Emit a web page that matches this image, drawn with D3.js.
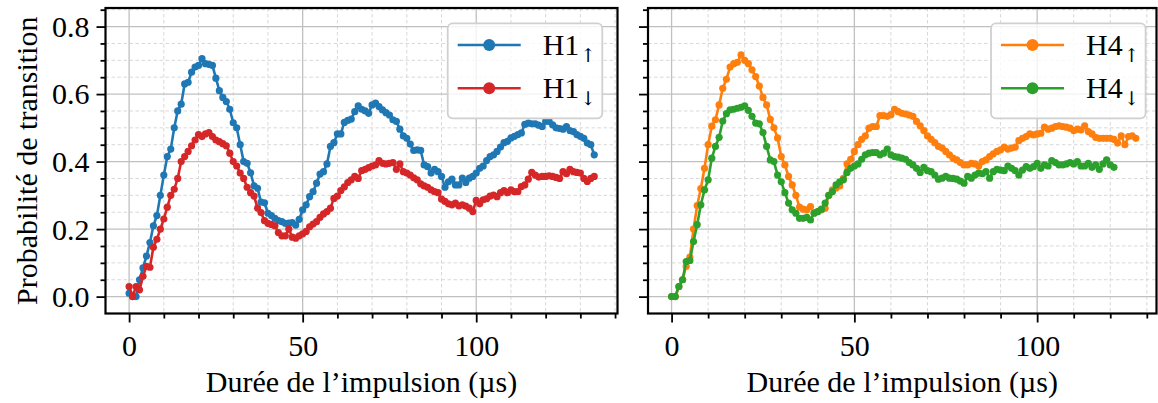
<!DOCTYPE html>
<html><head><meta charset="utf-8">
<script src="https://cdn.jsdelivr.net/npm/d3@7"></script>
<style>body{margin:0;background:#fff}svg{display:block}</style>
</head><body>
<svg id="c" width="1158" height="403"></svg>
<script>
// ---------- data (one sample per µs) ----------
const h1Up = [0.01,0.0,0.0,0.05,0.085,0.12,0.16,0.21,0.24,0.30,
 0.36,0.415,0.437,0.50,0.55,0.57,0.63,0.635,0.665,0.68,
 0.685,0.705,0.69,0.688,0.685,0.647,0.61,0.59,0.578,0.555,
 0.515,0.50,0.45,0.40,0.395,0.367,0.328,0.321,0.28,0.278,
 0.247,0.24,0.232,0.225,0.222,0.217,0.218,0.219,0.212,0.229,
 0.257,0.272,0.296,0.311,0.336,0.363,0.37,0.393,0.445,0.456,
 0.482,0.482,0.516,0.522,0.526,0.548,0.565,0.555,0.55,0.543,
 0.568,0.573,0.563,0.553,0.545,0.538,0.524,0.519,0.496,0.476,
 0.469,0.452,0.433,0.435,0.433,0.39,0.385,0.366,0.377,0.37,
 0.356,0.324,0.34,0.348,0.331,0.331,0.351,0.338,0.351,0.356,
 0.366,0.38,0.387,0.403,0.415,0.42,0.43,0.443,0.456,0.46,
 0.47,0.475,0.48,0.485,0.51,0.514,0.512,0.512,0.508,0.504,
 0.519,0.519,0.509,0.5,0.498,0.496,0.504,0.492,0.489,0.48,
 0.475,0.469,0.455,0.45,0.42];
const h1Down = [0.03,0.0,0.03,0.02,0.06,0.09,0.087,0.146,0.17,0.2,
 0.23,0.265,0.30,0.318,0.35,0.40,0.415,0.43,0.447,0.464,
 0.48,0.474,0.482,0.486,0.474,0.464,0.459,0.453,0.447,0.425,
 0.40,0.387,0.366,0.35,0.324,0.308,0.298,0.262,0.249,0.225,
 0.217,0.214,0.21,0.19,0.18,0.18,0.2,0.176,0.173,0.18,
 0.186,0.193,0.207,0.215,0.222,0.235,0.245,0.252,0.262,0.291,
 0.298,0.314,0.325,0.338,0.346,0.356,0.35,0.373,0.377,0.382,
 0.387,0.39,0.403,0.395,0.393,0.395,0.397,0.377,0.393,0.37,
 0.366,0.36,0.352,0.346,0.334,0.328,0.324,0.316,0.311,0.308,
 0.289,0.282,0.275,0.272,0.277,0.269,0.272,0.268,0.262,0.252,
 0.285,0.275,0.287,0.29,0.298,0.301,0.296,0.308,0.314,0.308,
 0.316,0.311,0.311,0.326,0.331,0.348,0.368,0.36,0.354,0.356,
 0.356,0.358,0.356,0.353,0.35,0.37,0.364,0.377,0.37,0.368,
 0.366,0.35,0.341,0.35,0.356];
const h4Up = [0.0,0.0,0.03,0.05,0.09,0.117,0.2,0.27,0.32,0.38,
 0.45,0.505,0.524,0.568,0.617,0.644,0.68,0.69,0.694,0.716,
 0.70,0.69,0.672,0.652,0.624,0.59,0.568,0.525,0.50,0.47,
 0.415,0.39,0.356,0.331,0.30,0.265,0.259,0.257,0.267,0.249,
 0.252,0.257,0.262,0.30,0.316,0.322,0.328,0.35,0.393,0.407,
 0.43,0.45,0.466,0.476,0.499,0.504,0.504,0.536,0.536,0.534,
 0.539,0.555,0.548,0.543,0.541,0.538,0.534,0.519,0.506,0.492,
 0.476,0.466,0.456,0.445,0.44,0.43,0.42,0.41,0.405,0.397,
 0.39,0.39,0.395,0.393,0.387,0.40,0.405,0.415,0.423,0.43,
 0.435,0.443,0.437,0.44,0.443,0.462,0.469,0.474,0.482,0.479,
 0.482,0.484,0.502,0.496,0.499,0.504,0.506,0.504,0.502,0.499,
 0.492,0.496,0.494,0.506,0.489,0.482,0.472,0.469,0.469,0.469,
 0.469,0.466,0.455,0.476,0.45,0.474,0.476,0.469];
const h4Down = [0,0,0.03,0.05,0.104,0.107,0.163,0.213,0.272,0.316,
 0.346,0.41,0.445,0.472,0.52,0.542,0.553,0.555,0.558,0.561,
 0.565,0.552,0.534,0.514,0.512,0.486,0.445,0.405,0.40,0.36,
 0.34,0.308,0.277,0.257,0.247,0.232,0.232,0.235,0.227,0.247,
 0.252,0.259,0.277,0.30,0.311,0.331,0.34,0.346,0.368,0.38,
 0.387,0.393,0.407,0.42,0.425,0.427,0.427,0.42,0.425,0.437,
 0.42,0.415,0.413,0.41,0.407,0.397,0.39,0.38,0.368,0.383,
 0.373,0.37,0.36,0.348,0.351,0.356,0.351,0.35,0.348,0.342,
 0.336,0.356,0.351,0.36,0.366,0.364,0.37,0.351,0.37,0.377,
 0.375,0.373,0.387,0.38,0.373,0.36,0.375,0.385,0.38,0.385,
 0.395,0.38,0.39,0.387,0.403,0.397,0.39,0.39,0.393,0.397,
 0.393,0.40,0.387,0.387,0.395,0.383,0.39,0.377,0.393,0.405,
 0.39,0.383];
const seriesNames = ["H1", "H1", "H4", "H4"];
const seriesSubs = ["↑", "↓", "↑", "↓"];
const xMajorTicks = [0, 50, 100];
const xTickLabels = ["0", "50", "100"];
const yMajorTicks = [0, 0.2, 0.4, 0.6, 0.8];
const yTickLabels = ["0.0", "0.2", "0.4", "0.6", "0.8"];
const xLabel = "Durée de l’impulsion (µs)";
const yLabel = "Probabilité de transition";

// ---------- layout / style ----------
const FONT = "'Liberation Serif','Times New Roman',serif";
const FS = 30;
const TOP = 8, BOTTOM = 313.5;
const colors = ["#1f77b4", "#d62728", "#ff7f0e", "#2ca02c"];
const panels = [
  {x0: 105.5, x1: 617.5, xDomain: [-6.8, 140.7], data: [h1Up, h1Down], idx: [0, 1], yLabels: true, legendX: 447.7},
  {x0: 648, x1: 1156.5, xDomain: [-6.45, 132.65], data: [h4Up, h4Down], idx: [2, 3], yLabels: false, legendX: 991}
];

const svg = d3.select("#c");
const y = d3.scaleLinear().domain([-0.05, 0.855]).range([BOTTOM, TOP]);
const yMinor = d3.range(0, 90, 5).filter(v => v % 20 !== 0).map(v => v / 100).filter(v => v <= 0.855);

panels.forEach((p, pi) => {
  const x = d3.scaleLinear().domain(p.xDomain).range([p.x0, p.x1]);
  const xMinor = d3.range(0, p.xDomain[1], 10).filter(v => !xMajorTicks.includes(v));
  const g = svg.append("g");

  // minor grid
  g.selectAll(null).data(xMinor).enter().append("line")
    .attr("x1", d => x(d)).attr("x2", d => x(d)).attr("y1", TOP).attr("y2", BOTTOM)
    .attr("stroke", "#d8d8d8").attr("stroke-width", 1).attr("stroke-dasharray", "3.5,2.5");
  g.selectAll(null).data(yMinor).enter().append("line")
    .attr("x1", p.x0).attr("x2", p.x1).attr("y1", d => y(d)).attr("y2", d => y(d))
    .attr("stroke", "#d8d8d8").attr("stroke-width", 1).attr("stroke-dasharray", "3.5,2.5");
  // major grid
  g.selectAll(null).data(xMajorTicks).enter().append("line")
    .attr("x1", d => x(d)).attr("x2", d => x(d)).attr("y1", TOP).attr("y2", BOTTOM)
    .attr("stroke", "#c0c0c0").attr("stroke-width", 1.3);
  g.selectAll(null).data(yMajorTicks).enter().append("line")
    .attr("x1", p.x0).attr("x2", p.x1).attr("y1", d => y(d)).attr("y2", d => y(d))
    .attr("stroke", "#c0c0c0").attr("stroke-width", 1.3);

  // series
  p.data.forEach((vals, si) => {
    const col = colors[p.idx[si]];
    const line = d3.line().x((d, i) => x(i)).y(d => y(d));
    g.append("path").datum(vals).attr("d", line)
      .attr("fill", "none").attr("stroke", col).attr("stroke-width", 2.6).attr("stroke-linejoin", "round");
    g.selectAll(null).data(vals).enter().append("circle")
      .attr("cx", (d, i) => x(i)).attr("cy", d => y(d)).attr("r", 3.6).attr("fill", col);
  });

  // axes
  const xa = g.append("g").attr("transform", `translate(0,${BOTTOM})`)
    .call(d3.axisBottom(x).tickValues(xMajorTicks).tickSize(9).tickPadding(12)
      .tickFormat((d, i) => xTickLabels[i]));
  const xm = g.append("g").attr("transform", `translate(0,${BOTTOM})`)
    .call(d3.axisBottom(x).tickValues(xMinor).tickSize(5).tickFormat(""));
  const ya = g.append("g").attr("transform", `translate(${p.x0},0)`)
    .call(d3.axisLeft(y).tickValues(yMajorTicks).tickSize(9).tickPadding(7)
      .tickFormat((d, i) => p.yLabels ? yTickLabels[i] : ""));
  const ym = g.append("g").attr("transform", `translate(${p.x0},0)`)
    .call(d3.axisLeft(y).tickValues(yMinor).tickSize(5).tickFormat(""));
  [xa, xm, ya, ym].forEach(a => {
    a.select(".domain").remove();
    a.selectAll(".tick line").attr("stroke", "#000").attr("stroke-width", 1.8);
    a.selectAll(".tick text").attr("font-family", FONT).attr("font-size", FS).attr("fill", "#000");
  });
  ya.selectAll(".tick text").attr("dy", "0.33em");

  // frame
  g.append("rect").attr("x", p.x0).attr("y", TOP).attr("width", p.x1 - p.x0).attr("height", BOTTOM - TOP)
    .attr("fill", "none").attr("stroke", "#000").attr("stroke-width", 2.2);

  // x label
  g.append("text").attr("x", (p.x0 + p.x1) / 2).attr("y", 392).attr("text-anchor", "middle")
    .attr("font-family", FONT).attr("font-size", FS).text(xLabel);

  // legend
  const lg = g.append("g").attr("transform", `translate(${p.legendX},23.3)`);
  lg.append("rect").attr("width", 154.6).attr("height", 95).attr("rx", 5)
    .attr("fill", "#fff").attr("fill-opacity", 0.8).attr("stroke", "#d0d0d0").attr("stroke-width", 1.8);
  p.idx.forEach((k, j) => {
    const ry = 21.7 + j * 43.3;
    lg.append("line").attr("x1", 10).attr("x2", 73).attr("y1", ry).attr("y2", ry)
      .attr("stroke", colors[k]).attr("stroke-width", 2.6);
    lg.append("circle").attr("cx", 41.5).attr("cy", ry).attr("r", 6).attr("fill", colors[k]);
    const t = lg.append("text").attr("x", 95).attr("y", ry + 10)
      .attr("font-family", FONT).attr("font-size", FS);
    t.append("tspan").text(seriesNames[k]);
    t.append("tspan").attr("font-family", "'DejaVu Serif',serif").attr("font-size", 19)
      .attr("dy", 7).attr("dx", 1).text(seriesSubs[k]);
  });
});

// y label
svg.append("text").attr("transform", `translate(37,${(TOP + BOTTOM) / 2}) rotate(-90)`)
  .attr("text-anchor", "middle").attr("font-family", FONT).attr("font-size", FS).text(yLabel);
</script>
</body></html>
